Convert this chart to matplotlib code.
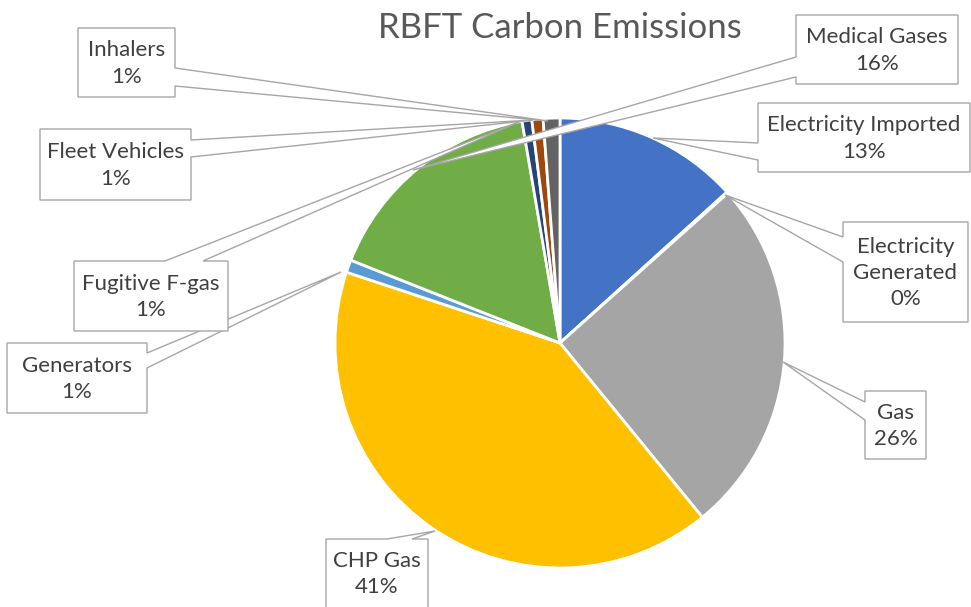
import matplotlib.pyplot as plt
from matplotlib.patches import Polygon

W, H = 971, 607

categories = ['Electricity Imported', 'Electricity Generated', 'Gas', 'CHP Gas',
              'Generators', 'Medical Gases', 'Fugitive F-gas', 'Fleet Vehicles',
              'Inhalers']
values = [13.3, 0.1, 25.7, 41.0, 0.9, 16.3, 0.7, 0.8, 1.2]
label_text = ['Electricity Imported\n13%', 'Electricity\nGenerated\n0%', 'Gas\n26%',
              'CHP Gas\n41%', 'Generators\n1%', 'Medical Gases\n16%',
              'Fugitive F-gas\n1%', 'Fleet Vehicles\n1%', 'Inhalers\n1%']
colors = ['#4472C4', '#ED7D31', '#A5A5A5', '#FFC000', '#5B9BD5', '#70AD47',
          '#264478', '#9E480E', '#636363']

# callout boxes in pixel coords: (x0, y0, x1, y1), side of pointer, base a, base b, tip
callouts = [
    ((758, 103, 970, 172), 'left', 143, 160, (653, 138)),
    ((843, 222, 968, 322), 'left', 237, 262, (725, 195)),
    ((865, 391, 926, 459), 'left', 402, 420, (783, 362)),
    ((326, 539, 428, 612), 'top', 387, 412, (435, 531)),
    ((7, 343, 147, 413), 'right', 353, 368, (341, 272)),
    ((796, 15, 958, 84), 'left', 57, 77, (413, 170)),
    ((74, 261, 228, 331), 'top', 165, 203, (521, 121)),
    ((40, 129, 191, 200), 'right', 140, 157, (533, 120)),
    ((78, 28, 175, 97), 'right', 68, 86, (548, 121)),
]

plt.rcParams['font.family'] = ['Lato', 'DejaVu Sans']


def py(y):
    # pixel row -> data y
    return H - y


def callout_shape(box, side, a, b, tip):
    x0, y0, x1, y1 = box
    pts = [(x0, y0)]
    if side == 'top':
        pts += [(a, y0), tip, (b, y0)]
    pts.append((x1, y0))
    if side == 'right':
        pts += [(x1, a), tip, (x1, b)]
    pts.append((x1, y1))
    pts.append((x0, y1))
    if side == 'left':
        pts += [(x0, b), tip, (x0, a)]
    return [(x, py(y)) for x, y in pts]


fig = plt.figure(figsize=(W / 100, H / 100), dpi=100)
ax = fig.add_axes([0, 0, 1, 1])

ax.pie(values, colors=colors, startangle=90, counterclock=False,
       center=(560, py(343)), radius=225,
       wedgeprops=dict(edgecolor='white', linewidth=2))

for txt, (box, side, a, b, tip) in zip(label_text, callouts):
    poly = Polygon(callout_shape(box, side, a, b, tip), closed=True,
                   facecolor='white', edgecolor='#A6A6A6', linewidth=1, zorder=5)
    ax.add_patch(poly)
    cx = (box[0] + box[2]) / 2
    cy = (box[1] + min(box[3], H)) / 2 + 1
    ax.text(cx, py(cy), txt, ha='center', va='center', fontsize=16,
            color='#404040', linespacing=1.4, zorder=6)

ax.text(560, py(28), 'RBFT Carbon Emissions', ha='center', va='center',
        fontsize=25, color='#595959')

ax.set_xlim(0, W)
ax.set_ylim(0, H)
ax.set_aspect('equal')
ax.axis('off')

fig.savefig('out.png', dpi=100)
